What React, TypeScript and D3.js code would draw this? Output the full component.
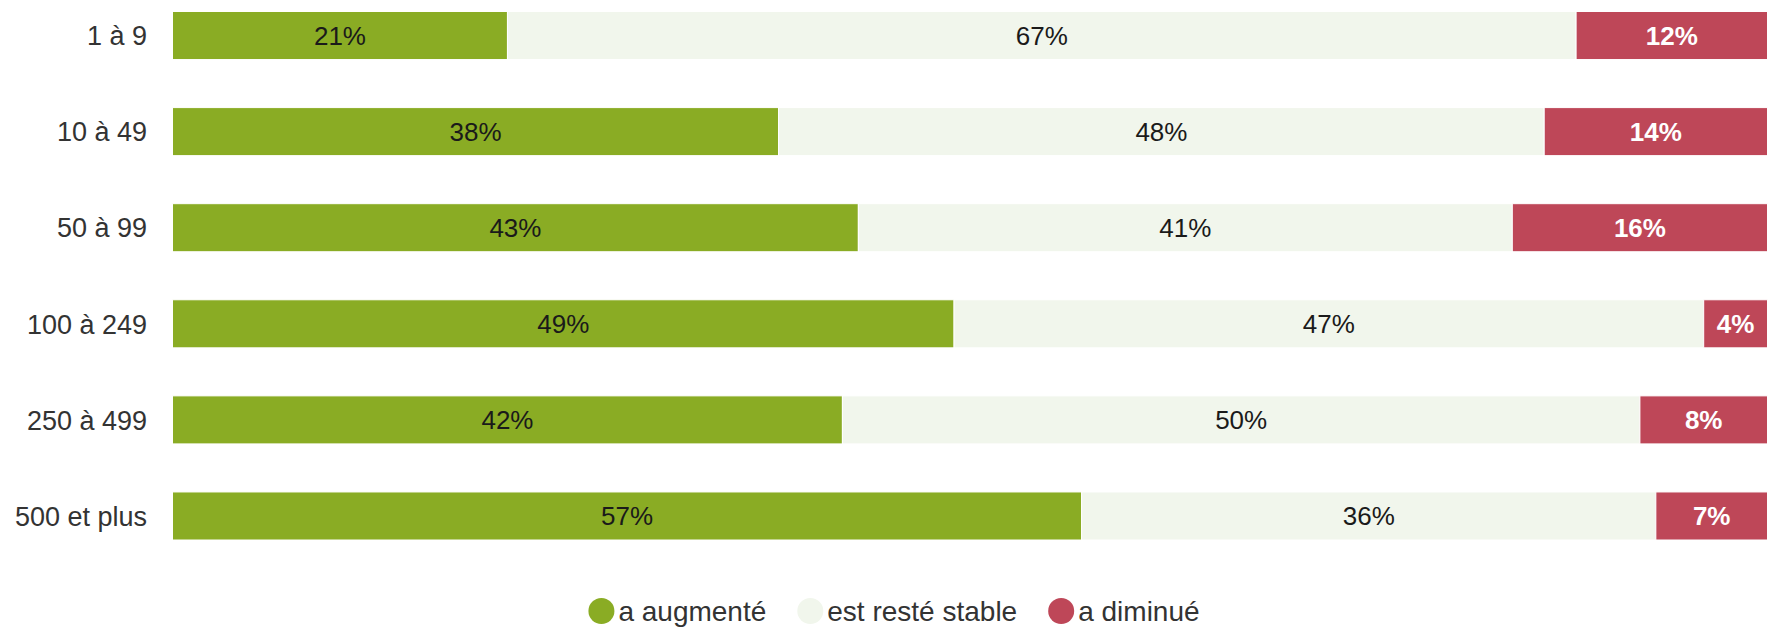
import { useMemo } from 'react';
import * as d3 from 'd3';

const categories = ['1 à 9', '10 à 49', '50 à 99', '100 à 249', '250 à 499', '500 et plus'];
const seriesNames = ['a augmenté', 'est resté stable', 'a diminué'];
const augmente = [21, 38, 43, 49, 42, 57];
const stable = [67, 48, 41, 47, 50, 36];
const diminue = [12, 14, 16, 4, 8, 7];

const COLORS = ['#8aac24', '#f1f6ec', '#be4758'];
const LABEL_COLORS = ['#1a1a1a', '#1a1a1a', '#ffffff'];
const LABEL_WEIGHTS = ['normal', 'normal', 'bold'];

const W = 1768;
const H = 627;
const FONT = '"Liberation Sans", Arial, sans-serif';

function measure(text: string, size: number) {
  const ctx = document.createElement('canvas').getContext('2d');
  if (!ctx) return text.length * size * 0.5;
  ctx.font = `${size}px ${FONT}`;
  return ctx.measureText(text).width;
}

export default function App() {
  const x = d3.scaleLinear().domain([0, 100]).range([172.5, 1767.5]);
  const y = d3
    .scaleBand<string>()
    .domain(categories)
    .range([11.5, 540])
    .paddingInner(0.5)
    .paddingOuter(0);

  const rows = useMemo(
    () =>
      categories.map((cat, i) => {
        const vals = [augmente[i], stable[i], diminue[i]];
        const stack = d3.cumsum(vals);
        return { cat, segs: vals.map((v, k) => ({ v, k, x0: stack[k] - v, x1: stack[k] })) };
      }),
    [],
  );

  // legend, centred under the chart
  const legendSize = 28;
  const r = 13;
  const pad = 4;
  const items = seriesNames.map((name) => ({ name, w: measure(name, legendSize) }));
  const itemW = items.map((it) => 2 * r + pad + it.w);
  const gap = 31;
  const total = d3.sum(itemW) + gap * (items.length - 1);
  let cursor = 894 - total / 2;
  const legend = items.map((it, i) => {
    const start = cursor;
    cursor += itemW[i] + gap;
    return { ...it, cx: start + r, tx: start + 2 * r + pad, color: COLORS[i] };
  });

  return (
    <svg
      width={W}
      height={H}
      style={{ position: 'absolute', left: 0, top: 0, display: 'block', background: '#fff' }}
      fontFamily={FONT}
    >
      {/* category axis */}
      {categories.map((c) => (
        <text
          key={c}
          x={147}
          y={(y(c) ?? 0) + y.bandwidth() / 2}
          dy="0.36em"
          textAnchor="end"
          fontSize={27}
          fill="#333"
        >
          {c}
        </text>
      ))}

      {/* stacked bars */}
      {rows.map((row) => (
        <g key={row.cat} transform={`translate(0,${y(row.cat)})`}>
          {row.segs.map((s) => (
            <rect
              key={s.k}
              x={x(s.x0)}
              y={0}
              width={x(s.x1) - x(s.x0)}
              height={y.bandwidth()}
              fill={COLORS[s.k]}
              stroke="#fff"
              strokeWidth={1}
            />
          ))}
          {row.segs.map((s) => (
            <text
              key={'l' + s.k}
              x={(x(s.x0) + x(s.x1)) / 2}
              y={y.bandwidth() / 2}
              dy="0.36em"
              textAnchor="middle"
              fontSize={26}
              fontWeight={LABEL_WEIGHTS[s.k]}
              fill={LABEL_COLORS[s.k]}
            >
              {s.v}%
            </text>
          ))}
        </g>
      ))}

      {/* legend */}
      {legend.map((l) => (
        <g key={l.name}>
          <circle cx={l.cx} cy={611} r={r} fill={l.color} />
          <text x={l.tx} y={611} dy="0.35em" fontSize={legendSize} fill="#333">
            {l.name}
          </text>
        </g>
      ))}
    </svg>
  );
}
